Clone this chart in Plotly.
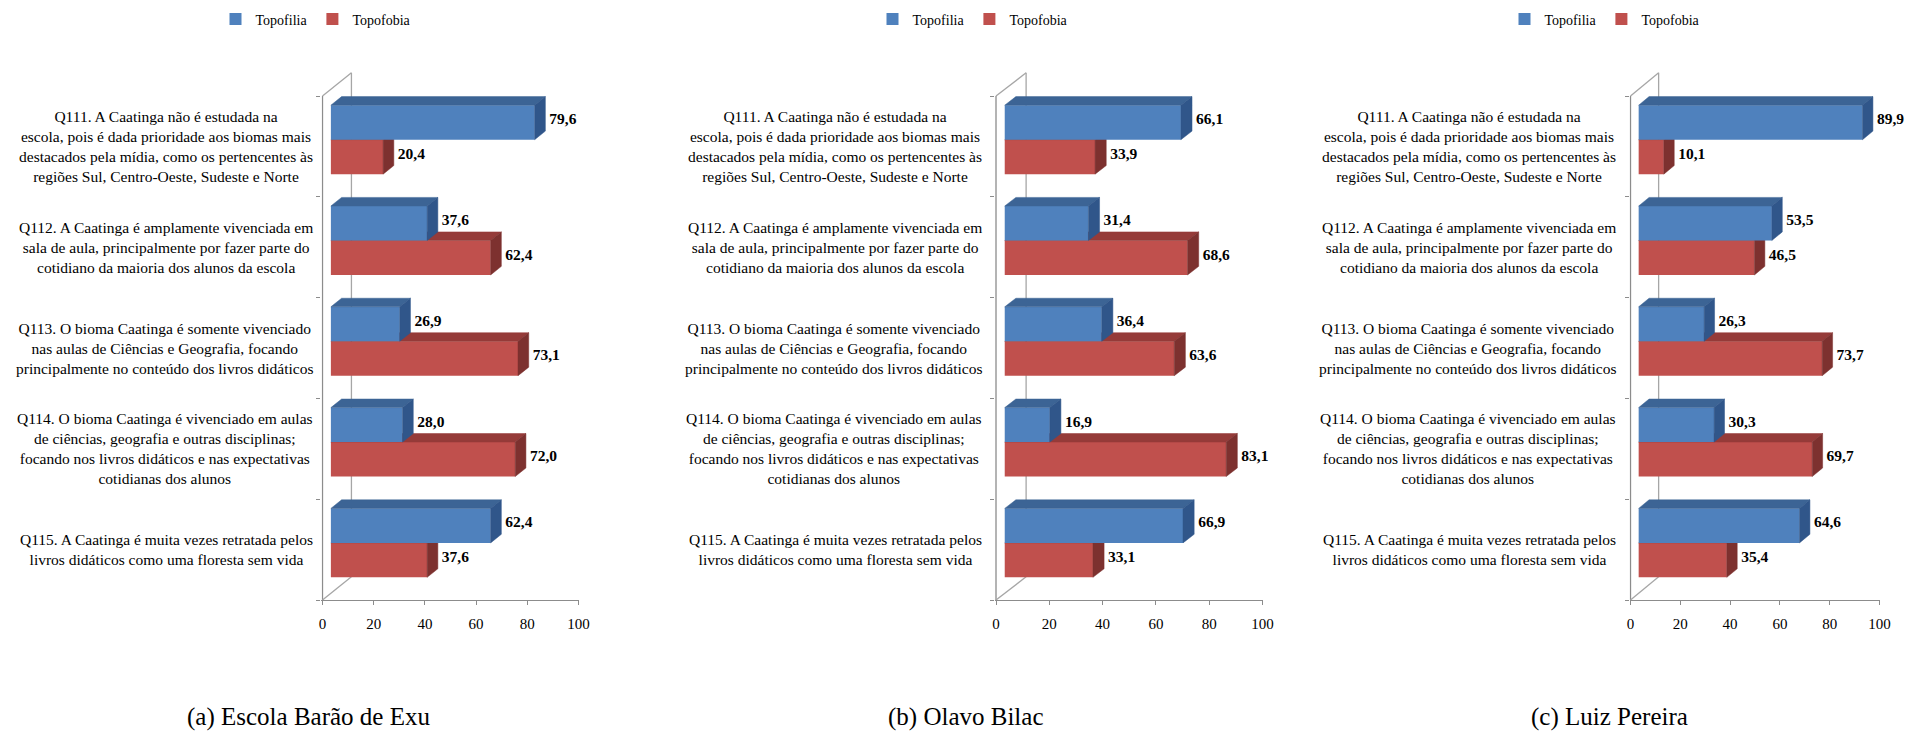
import plotly.graph_objects as go

# ---------------- data ----------------
categories = [
    "Q111. A Caatinga não é estudada na<br>escola, pois é dada prioridade aos biomas mais<br>destacados pela mídia, como os pertencentes às<br>regiões Sul, Centro-Oeste, Sudeste e Norte",
    "Q112. A Caatinga é amplamente vivenciada em<br>sala de aula, principalmente por fazer parte do<br>cotidiano da maioria dos alunos da escola",
    "Q113. O bioma Caatinga é somente vivenciado<br>nas aulas de Ciências e Geografia, focando<br>principalmente no conteúdo dos livros didáticos",
    "Q114. O bioma Caatinga é vivenciado em aulas<br>de ciências, geografia e outras disciplinas;<br>focando nos livros didáticos e nas expectativas<br>cotidianas dos alunos",
    "Q115. A Caatinga é muita vezes retratada pelos<br>livros didáticos como uma floresta sem vida",
]
schools = ["(a) Escola Barão de Exu", "(b) Olavo Bilac", "(c) Luiz Pereira"]
series_names = ["Topofilia", "Topofobia"]

topofilia_a = [79.6, 37.6, 26.9, 28.0, 62.4]
topofobia_a = [20.4, 62.4, 73.1, 72.0, 37.6]
topofilia_b = [66.1, 31.4, 36.4, 16.9, 66.9]
topofobia_b = [33.9, 68.6, 63.6, 83.1, 33.1]
topofilia_c = [89.9, 53.5, 26.3, 30.3, 64.6]
topofobia_c = [10.1, 46.5, 73.7, 69.7, 35.4]

x_ticks = [0, 20, 40, 60, 80, 100]

panels = [
    (topofilia_a, topofobia_a),
    (topofilia_b, topofobia_b),
    (topofilia_c, topofobia_c),
]

# ---------------- style / layout constants ----------------
W, H = 1907, 733
FONT = "Liberation Serif"
FRONT_PX = [(322.5, 578.5), (996.0, 1262.5), (1630.5, 1879.5)]
LABEL_RIGHT_PX = [315, 984, 1618]
LEGEND_CX_PX = [316, 973, 1605]
TITLE_CX_PX = [308, 966, 1609]
Y_FRONT_TOP_PX, Y_FRONT_BOT_PX = 96, 600
X_LO, X_HI = -0.4, 100
Y_LO, Y_FRONT_HI, Y_HI = -0.5, 4.5, 4.8

DXU = 11.3      # depth of the 3D box, x data units
DYU = 0.23      # depth of the 3D box, category units
F0, F1 = 0.29, 0.66   # bar front / back depth fractions
BW = 0.342      # bar thickness (category units)

BLUE = dict(front="#4F81BD", top="#3C6495", side="#30568A")
RED = dict(front="#C0504D", top="#953B39", side="#7D312F")
GRID = "#8C8C8C"
WALL = "#A6A6A6"

n = len(categories)
pos = [n - 1 - i for i in range(n)]  # Q111 at top

unit_px = (Y_FRONT_BOT_PX - Y_FRONT_TOP_PX) / (Y_FRONT_HI - Y_LO)
ydom = [(H - Y_FRONT_BOT_PX) / H,
        (H - (Y_FRONT_BOT_PX - (Y_HI - Y_LO) * unit_px)) / H]


def fmt(v):
    return f"{v:.1f}".replace(".", ",")


def faces(values, offs):
    """Top and side face polygons of 3D bars (data coordinates)."""
    x0 = F0 * DXU
    y0 = F0 * DYU
    ddx = (F1 - F0) * DXU
    ddy = (F1 - F0) * DYU
    tx, ty, sx, sy = [], [], [], []
    for v, p in zip(values, pos):
        yb = p + offs + y0
        yt = yb + BW
        xe = x0 + v
        tx += [x0, xe, xe + ddx, x0 + ddx, x0, None]
        ty += [yt, yt, yt + ddy, yt + ddy, yt, None]
        sx += [xe, xe, xe + ddx, xe + ddx, xe, None]
        sy += [yb, yt, yt + ddy, yb + ddy, yb, None]
    return tx, ty, sx, sy


fig = go.Figure()
layout = dict(
    template="none",
    width=W, height=H,
    margin=dict(l=0, r=0, t=0, b=0, pad=0, autoexpand=False),
    paper_bgcolor="white", plot_bgcolor="rgba(0,0,0,0)",
    barmode="overlay",
    font=dict(family=FONT, color="black"),
    showlegend=True,
)
shapes, annotations = [], []

for k, (fil, fob) in enumerate(panels):
    i = k + 1
    xa, ya, xo = f"x{i}", f"y{i}", f"x{i + 3}"
    xname, yname, xoname = f"xaxis{i}", f"yaxis{i}", f"xaxis{i + 3}"
    lg = "legend" if i == 1 else f"legend{i}"
    px0, px100 = FRONT_PX[k]
    ppu = (px100 - px0) / 100.0
    dom = [(px0 + X_LO * ppu) / W, (px0 + X_HI * ppu) / W]

    layout[xname] = dict(domain=dom, range=[X_LO, X_HI], anchor=ya,
                         tickvals=x_ticks, ticks="outside", ticklen=4,
                         tickcolor=GRID, showline=True, linecolor=GRID,
                         linewidth=1, showgrid=False, zeroline=False,
                         automargin=False,
                         tickfont=dict(family=FONT, size=15, color="black"),
                         ticklabelstandoff=6, fixedrange=True)
    layout[yname] = dict(domain=ydom, range=[Y_LO, Y_HI], anchor=xa,
                         tickvals=[p - 0.5 for p in range(n + 1)],
                         ticks="outside", ticklen=4, tickcolor=GRID,
                         showticklabels=False, showgrid=False,
                         automargin=False,
                         zeroline=False, showline=False, fixedrange=True)
    layout[xoname] = dict(overlaying=xa, anchor=ya, range=[X_LO, X_HI],
                          visible=False, fixedrange=True, automargin=False)

    # frame: front y axis, back wall, diagonals
    for (a0, b0, a1, b1) in [
        (0, Y_LO, 0, Y_FRONT_HI),
        (DXU, Y_LO + DYU, DXU, Y_FRONT_HI + DYU),
        (0, Y_FRONT_HI, DXU, Y_FRONT_HI + DYU),
        (0, Y_LO, DXU, Y_LO + DYU),
    ]:
        shapes.append(dict(type="line", xref=xa, yref=ya, x0=a0, y0=b0,
                           x1=a1, y1=b1, layer="below",
                           line=dict(color=WALL if a0 or a1 else GRID,
                                     width=1.3)))

    # ---- Topofobia (red), lower bar, primary subplot ----
    red_off = -BW
    fig.add_trace(go.Bar(
        x=fob, y=[p + red_off + F0 * DYU + BW / 2 for p in pos],
        base=F0 * DXU, width=BW, orientation="h",
        marker=dict(color=RED["front"], line=dict(width=0)),
        name=series_names[1], legend=lg, legendrank=2,
        xaxis=xa, yaxis=ya, hoverinfo="skip"))
    tx, ty, sx, sy = faces(fob, red_off)
    for xs, ys, col in [(tx, ty, RED["top"]), (sx, sy, RED["side"])]:
        fig.add_trace(go.Scatter(x=xs, y=ys, fill="toself", fillcolor=col,
                                 mode="lines", line=dict(width=0.5, color=col),
                                 showlegend=False, hoverinfo="skip",
                                 xaxis=xa, yaxis=ya))

    # ---- Topofilia (blue), upper bar, overlay subplot ----
    blue_off = 0.0
    fig.add_trace(go.Bar(
        x=fil, y=[p + blue_off + F0 * DYU + BW / 2 for p in pos],
        base=F0 * DXU, width=BW, orientation="h",
        marker=dict(color=BLUE["front"], line=dict(width=0)),
        name=series_names[0], legend=lg, legendrank=1,
        xaxis=xo, yaxis=ya, hoverinfo="skip"))
    tx, ty, sx, sy = faces(fil, blue_off)
    for xs, ys, col in [(tx, ty, BLUE["top"]), (sx, sy, BLUE["side"])]:
        fig.add_trace(go.Scatter(x=xs, y=ys, fill="toself", fillcolor=col,
                                 mode="lines", line=dict(width=0.5, color=col),
                                 showlegend=False, hoverinfo="skip",
                                 xaxis=xo, yaxis=ya))

    # value labels
    gap = 4.0 / ppu
    lx, ly, lt = [], [], []
    for vals, off in [(fil, blue_off), (fob, red_off)]:
        for v, p in zip(vals, pos):
            lx.append(F1 * DXU + v + gap)
            ly.append(p + off + F0 * DYU + BW / 2 + 0.02)
            lt.append(fmt(v))
    fig.add_trace(go.Scatter(x=lx, y=ly, text=lt, mode="text",
                             textposition="middle right", cliponaxis=False,
                             textfont=dict(family=FONT, size=15.5,
                                           color="black", weight="bold"),
                             showlegend=False, hoverinfo="skip",
                             xaxis=xo, yaxis=ya))

    # category labels
    for cat, p in zip(categories, pos):
        annotations.append(dict(text=cat, xref="paper", yref=ya,
                                x=LABEL_RIGHT_PX[k] / W, y=p,
                                xanchor="right", yanchor="middle",
                                align="center", showarrow=False,
                                font=dict(family=FONT, size=15.5,
                                          color="black")))
    # subtitle
    annotations.append(dict(text=schools[k], xref="paper", yref="paper",
                            x=TITLE_CX_PX[k] / W, y=0,
                            xanchor="center", yanchor="bottom",
                            showarrow=False,
                            font=dict(family=FONT, size=25, color="black")))
    # legend
    layout[lg] = dict(orientation="h", x=LEGEND_CX_PX[k] / W,
                      y=1 - 19.5 / H, xanchor="center", yanchor="middle",
                      font=dict(family=FONT, size=14, color="black"),
                      bgcolor="rgba(0,0,0,0)", itemwidth=30,
                      traceorder="normal", itemclick=False,
                      itemdoubleclick=False)

layout["shapes"] = shapes
layout["annotations"] = annotations
fig.update_layout(**layout)
fig.write_html(
    "out.html",
    config={"displayModeBar": False, "staticPlot": True},
    post_script="document.body.style.margin='0px';"
                "document.body.style.overflow='hidden';",
)
